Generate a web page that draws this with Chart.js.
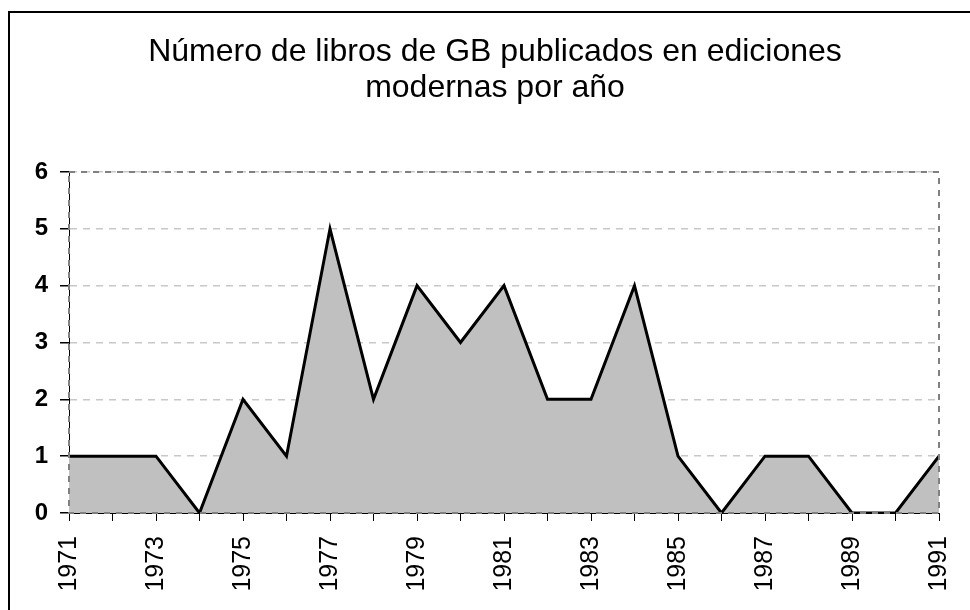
<!DOCTYPE html>
<html>
<head>
<meta charset="utf-8">
<script src="https://cdn.jsdelivr.net/npm/chart.js@4"></script>
<style>
  body { margin: 0; background: #fff; }
  #marco { position: absolute; left: 8px; top: 11px; width: 1000px; height: 700px; border-left: 2px solid #000; border-top: 2px solid #000; box-sizing: border-box; }
  #caja { position: absolute; left: 0; top: 0; width: 970px; height: 610px; }
</style>
</head>
<body>
<div id="marco"></div>
<div id="caja"><canvas id="grafico" width="970" height="610"></canvas></div>
<script>
// Datos del gráfico
const anios = ['1971', '1972', '1973', '1974', '1975', '1976', '1977', '1978', '1979', '1980', '1981',
               '1982', '1983', '1984', '1985', '1986', '1987', '1988', '1989', '1990', '1991'];
const libros = [1, 1, 1, 0, 2, 1, 5, 2, 4, 3, 4, 2, 2, 4, 1, 0, 1, 1, 0, 0, 1];
const titulo = ['Número de libros de GB publicados en ediciones', 'modernas por año'];

// Título centrado sobre el gráfico (como en el original)
const tituloPlugin = {
    id: 'tituloPlugin',
    afterDraw(chart) {
        const c = chart.ctx;
        c.save();
        c.fillStyle = '#000';
        c.font = '32px "Liberation Sans", Arial, sans-serif';
        c.textAlign = 'center';
        c.textBaseline = 'alphabetic';
        c.fillText(titulo[0], 495, 61);
        c.fillText(titulo[1], 495, 97);
        c.restore();
    }
};

// Borde punteado del área de trazado
const bordeArea = {
    id: 'bordeArea',
    afterDatasetsDraw(chart) {
        const { ctx, chartArea: a } = chart;
        ctx.save();
        ctx.strokeStyle = '#808080';
        ctx.lineWidth = 2;
        ctx.setLineDash([6, 6]);
        ctx.strokeRect(a.left, a.top, a.right - a.left, a.bottom - a.top);
        ctx.restore();
    }
};

const ctx = document.getElementById('grafico').getContext('2d');
const chart = new Chart(ctx, {
    type: 'line',
    data: {
        labels: anios,
        datasets: [{
            data: libros,
            borderColor: '#000',
            borderWidth: 3,
            backgroundColor: '#c0c0c0',
            fill: 'origin',
            pointRadius: 0,
            tension: 0
        }]
    },
    plugins: [bordeArea, tituloPlugin],
    options: {
        responsive: false,
        animation: false,
        layout: { padding: { top: 172, right: 31, bottom: 0, left: 0 } },
        plugins: {
            legend: { display: false },
            tooltip: { enabled: false },
            title: { display: false }
        },
        scales: {
            x: {
                offset: false,
                afterFit: s => { s.height = 97; s.paddingLeft = 0; s.paddingRight = 0; },
                grid: { drawOnChartArea: false, drawTicks: true, tickLength: 8, color: '#000' },
                border: { display: true, color: '#000', width: 1 },
                ticks: {
                    autoSkip: false,
                    maxRotation: 90,
                    minRotation: 90,
                    padding: 15,
                    color: '#000',
                    font: { family: 'Liberation Sans', size: 25 },
                    callback: (v, i) => i % 2 === 0 ? anios[i] : ''
                }
            },
            y: {
                min: 0,
                max: 6,
                afterFit: s => { s.width = 69; s.paddingTop = 0; s.paddingBottom = 0; },
                grid: { color: '#c8c8c8', tickColor: '#000', tickLength: 9, lineWidth: 1.5, drawTicks: true },
                border: { display: true, color: '#000', width: 1, dash: [7, 6] },
                ticks: {
                    stepSize: 1,
                    padding: 12,
                    color: '#000',
                    font: { family: 'Liberation Sans', size: 24, weight: 'bold' }
                }
            }
        }
    }
});
</script>
</body>
</html>
